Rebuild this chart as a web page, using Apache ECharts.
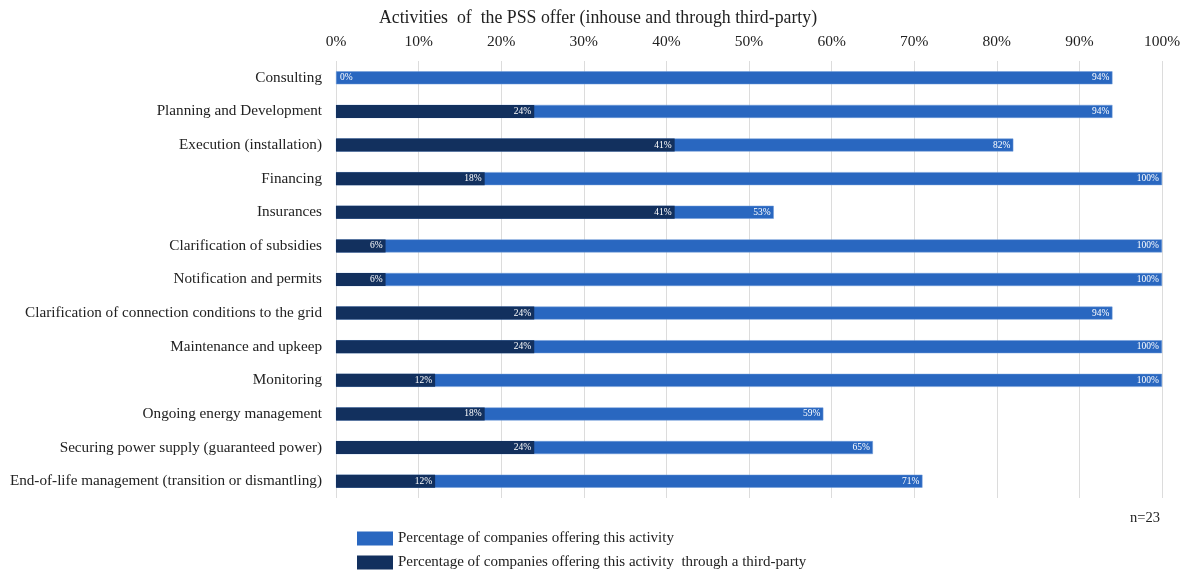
<!DOCTYPE html>
<html lang="en">
<head>
    <meta charset="UTF-8">
    <title>Activities of the PSS offer</title>
    <script src="https://cdn.jsdelivr.net/npm/echarts@6/dist/echarts.min.js"></script>
    <style>
        html, body { margin: 0; padding: 0; background: #fff; }
        #chart { width: 1188px; height: 575px; }
    </style>
</head>
<body>
<div id="chart"></div>
<script>
    // categories, top to bottom
    var activities = [
        'Consulting',
        'Planning and Development',
        'Execution (installation)',
        'Financing',
        'Insurances',
        'Clarification of subsidies',
        'Notification and permits',
        'Clarification of connection conditions to the grid',
        'Maintenance and upkeep',
        'Monitoring',
        'Ongoing energy management',
        'Securing power supply (guaranteed power)',
        'End-of-life management (transition or dismantling)'
    ];
    // % of companies offering the activity
    var offering = [94, 94, 82, 100, 53, 100, 100, 94, 100, 100, 59, 65, 71];
    // % offering it through a third-party
    var thirdParty = [0, 24, 41, 18, 41, 6, 6, 24, 24, 12, 18, 24, 12];
    var xTicks = { min: 0, max: 100, interval: 10 };

    var serif = '"Liberation Serif", "Times New Roman", serif';
    var labelStyle = {
        show: true,
        position: 'insideRight',
        distance: 3,
        color: '#fff',
        fontFamily: serif,
        fontSize: 9.5,
        formatter: '{c}%'
    };

    var chart = echarts.init(document.getElementById('chart'));
    chart.setOption({
        animation: false,
        title: {
            text: 'Activities  of  the PSS offer (inhouse and through third-party)',
            left: 593,
            top: 4,
            textAlign: 'center',
            textStyle: { fontFamily: serif, fontSize: 17.8, fontWeight: 'normal', color: '#222' }
        },
        legend: {
            orient: 'vertical',
            left: 352,
            top: 526,
            height: 60,
            itemWidth: 36,
            itemHeight: 14,
            itemGap: 9,
            icon: 'rect',
            itemStyle: { borderWidth: 0 },
            textStyle: { fontFamily: serif, fontSize: 15, color: '#222' },
            data: ['Percentage of companies offering this activity',
                   'Percentage of companies offering this activity  through a third-party']
        },
        graphic: [{
            type: 'text',
            right: 28,
            top: 511,
            style: { text: 'n=23', font: '14.5px ' + serif, fill: '#222' }
        }],
        grid: { left: 336, right: 26, top: 61, bottom: 77 },
        xAxis: {
            type: 'value',
            position: 'top',
            min: xTicks.min,
            max: xTicks.max,
            interval: xTicks.interval,
            axisLine: { show: false },
            axisTick: { show: false },
            axisLabel: { formatter: '{value}%', fontFamily: serif, fontSize: 15.5, color: '#222', margin: 11 },
            splitLine: { lineStyle: { color: '#dcdcdc' } }
        },
        yAxis: {
            type: 'category',
            inverse: true,
            data: activities,
            axisLine: { show: false },
            axisTick: { show: false },
            axisLabel: { fontFamily: serif, fontSize: 15.2, color: '#222', margin: 14 }
        },
        series: [{
            name: 'Percentage of companies offering this activity',
            type: 'bar',
            data: offering,
            barWidth: 13,
            itemStyle: { color: '#2967c0', borderColor: '#6f9ad8', borderWidth: 0.5 },
            label: labelStyle
        }, {
            name: 'Percentage of companies offering this activity  through a third-party',
            type: 'bar',
            barGap: '-100%',
            barWidth: 13,
            data: thirdParty.map(function (v) {
                if (v === 0) {
                    return { value: v, label: { position: 'right', distance: 4 } };
                }
                return v;
            }),
            itemStyle: { color: '#12305e' },
            label: labelStyle
        }]
    });
</script>
</body>
</html>
